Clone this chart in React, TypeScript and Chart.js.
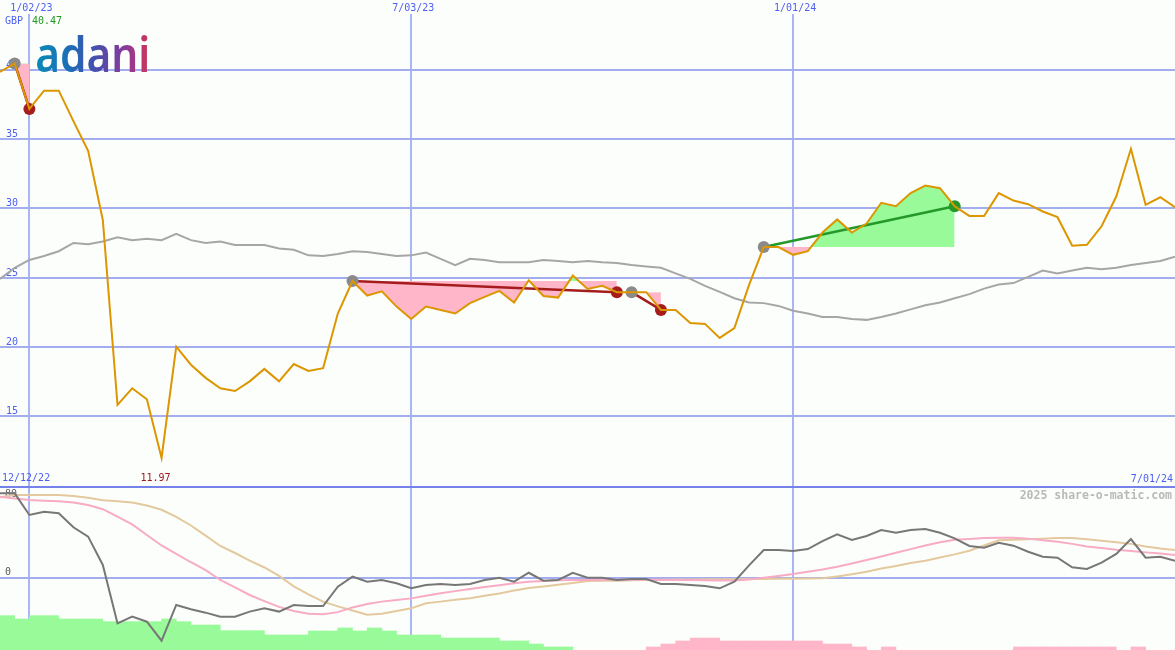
import React, { useEffect, useRef } from "react";
import { Chart, registerables } from "chart.js";

Chart.register(...registerables);

// ---------------- data ----------------
const dateTicks = [2, 28, 54];
const dateLabels = ["1/02/23", "7/03/23", "1/01/24"];
const rangeStartLabel = "12/12/22";
const rangeEndLabel = "7/01/24";
const currency = "GBP";
const logoText = "adani";
const watermark = "2025 share-o-matic.com";
const priceTicks = [15, 20, 25, 30, 35, 40];
const oscTicks = [80, 0, -60];

// weekly closes (index 0..80)
const price = [
  39.85, 40.47, 37.18, 38.5, 38.5, 36.3, 34.15, 29.16, 15.8, 17.0,
  16.2, 11.97, 20.0, 18.7, 17.75, 17.0, 16.8, 17.5, 18.4, 17.5,
  18.75, 18.25, 18.45, 22.4, 24.75, 23.7, 24.0, 22.9, 22.0, 22.9,
  22.66, 22.4, 23.15, 23.6, 24.03, 23.2, 24.8, 23.67, 23.55, 25.14,
  24.18, 24.4, 23.94, 23.94, 23.94, 22.66, 22.66, 21.72, 21.65, 20.64,
  21.35, 24.47, 27.2, 27.2, 26.64, 26.9, 28.25, 29.2, 28.25, 28.9,
  30.4, 30.15, 31.1, 31.64, 31.45, 30.15, 29.45, 29.45, 31.1, 30.56,
  30.3, 29.77, 29.36, 27.3, 27.36, 28.7, 30.85, 34.3, 30.25, 30.8,
  30.08,
];

const movingAverage = [
  24.9, 25.7, 26.27, 26.56, 26.9, 27.5, 27.4, 27.6, 27.9, 27.7,
  27.8, 27.7, 28.15, 27.7, 27.5, 27.6, 27.35, 27.35, 27.35, 27.1,
  27.0, 26.6, 26.55, 26.7, 26.9, 26.85, 26.7, 26.56, 26.6, 26.8,
  26.35, 25.9, 26.35, 26.27, 26.1, 26.1, 26.1, 26.27, 26.2, 26.1,
  26.2, 26.1, 26.05, 25.9, 25.8, 25.7, 25.3, 24.9, 24.4, 23.96,
  23.5, 23.2, 23.15, 22.95, 22.6, 22.4, 22.15, 22.15, 22.0, 21.94,
  22.15, 22.4, 22.7, 23.0, 23.2, 23.5, 23.8, 24.2, 24.5, 24.6,
  25.05, 25.5, 25.3, 25.5, 25.7, 25.6, 25.7, 25.9, 26.05, 26.2,
  26.5,
];

const tradeEntries = [1, 24, 43, 52];
const tradeExits = [2, 42, 45, 65];

const oscillator = [
  80.6, 80.6, 60, 63, 61.6, 48.3, 39.4, 12.4, -43.2, -36.8,
  -41.6, -59.7, -25.7, -29.8, -33, -36.8, -36.8, -32, -28.9, -32,
  -25.7, -26.7, -26.7, -8.3, 1.3, -3.5, -1.9, -5, -9.8, -6.7,
  -5.7, -6.7, -5.7, -1.9, 0.3, -3.5, 5, -2.5, -1.9, 5,
  0.3, 0.3, -1.9, -1, -1, -5.7, -5.7, -6.7, -7.6, -9.8,
  -3.5, 12, 26.7, 26.7, 25.7, 27.6, 35.2, 41.6, 36.2, 40,
  45.7, 43.1, 45.7, 46.7, 43.1, 37.8, 30.5, 28.9, 33.6, 30.8,
  25, 20.3, 19.3, 10.2, 8.6, 14.6, 22.9, 37.1, 19.3, 20.3,
  16.5,
];

const signalFast = [
  77.4, 75.8, 74.3, 73.6, 73, 72, 69.5, 65.5, 58.5, 51,
  41, 31, 23, 15, 7.5, -1.9, -9, -16.2, -22, -27.5,
  -31.5, -34, -34.5, -32.5, -28, -24.8, -22.5, -21, -19.4, -17,
  -14.5, -12.5, -10.5, -8.5, -6.8, -5, -3.5, -2.8, -2.2, -1.9,
  -1.8, -1.7, -1.6, -1.6, -1.6, -1.7, -1.9, -2.0, -2.2, -2.3,
  -2.3, -1.5, 0.3, 2, 3.8, 6, 8.2, 10.8, 13.8, 17.1,
  20.5, 24, 27.5, 31, 34, 36.5, 37.1, 38, 38.4, 38.4,
  37.5, 36, 34.5, 32.5, 30, 28.5, 26.8, 25.8, 24.4, 23.3,
  21.9,
];

const signalSlow = [
  77, 79, 79, 79, 79, 78, 76.5, 74, 73, 71.8,
  69, 65, 58.2, 50, 40.3, 30.5, 23.8, 16.5, 10, 2,
  -8, -15.5, -22.5, -27, -31, -35, -34, -31.5, -28.9, -24.1,
  -22.5, -20.8, -19.2, -17, -14.7, -12, -9.5, -8, -6.5, -4.8,
  -2.9, -2.7, -2.5, -2.2, -1.9, -1.8, -1.5, -1.4, -1.3, -1.2,
  -1.1, -1.0, -0.9, -0.8, -0.7, -0.5, -0.3, 1.5, 3.5, 6,
  9, 11.5, 14.3, 16.5, 19.5, 22.5, 26, 31, 36, 36.5,
  37, 37.5, 38, 38.2, 36.8, 35.5, 34, 32.5, 30, 28,
  26.7,
];

// weekly histogram (bar i spans week i..i+1); positive = green, negative = pink
const histogram = [
  32.7, 29.5, 32.7, 32.7, 29.5, 29.5, 29.5, 27, 27, 27,
  27, 29.5, 27, 23.8, 23.8, 18.4, 18.4, 18.4, 14.3, 14.3,
  14.3, 18.1, 18.1, 21, 18.1, 21, 18.1, 14.3, 14.3, 14.3,
  11.4, 11.4, 11.4, 11.4, 8.6, 8.6, 5.7, 2.9, 2.9, 0,
  0, 0, 0, 0, -2.9, -5.7, -8.6, -11.4, -11.4, -8.6,
  -8.6, -8.6, -8.6, -8.6, -8.6, -8.6, -5.7, -5.7, -2.9, 0,
  -2.9, 0, 0, 0, 0, 0, 0, 0, 0, -2.9,
  -2.9, -2.9, -2.9, -2.9, -2.9, -2.9, 0, -2.9, 0, 0,
];

// ---------------- layout / style ----------------
const W = 1175;
const TOP_H = 485;
const BOT_H = 165;
const PRICE_MIN = 10.01;
const PRICE_MAX = 45.05;
const OSC_MIN = -68.57;
const OSC_MAX = 88.57;
const SEPARATOR = 87.14;

const BG = "#fcfefc";
const HGRID = "#a3aeef";
const VGRID = "#aab5f3";
const SEP_BLUE = "#7482ea";
const AXIS_BLUE = "#4d5ff0";
const ORANGE = "#dc9600";
const MA_GREY = "#a6a6a6";
const FILL_PINK = "#ffb6c9";
const FILL_GREEN = "#98fa98";
const TRADE_RED = "#a51c1c";
const TRADE_GREEN = "#24992a";
const MARKER_GREY = "#8a8a8a";
const MARKER_RED = "#a51c1c";
const MARKER_GREEN = "#24992a";
const OSC_GREY = "#777777";
const SIG_PINK = "#f7abc4";
const SIG_TAN = "#e3c99d";
const MAX_GREEN = "#1f9a1f";
const MIN_RED = "#a01818";
const OSC_LABEL = "#5a5a5a";
const WATERMARK_GREY = "#b9b9b9";
const FONT = "10px 'DejaVu Sans Mono'";

const pts = (arr: number[], from = 0, to = arr.length - 1) => {
  const out: { x: number; y: number }[] = [];
  for (let i = from; i <= to; i++) out.push({ x: i, y: arr[i] });
  return out;
};

const maxPrice = Math.max(...price);
const minPrice = Math.min(...price);
const minIdx = price.indexOf(minPrice);

const hideAxisX = (s: any) => {
  s.height = 0;
};
const hideAxisY = (s: any) => {
  s.width = 0;
};

const topTextPlugin = {
  id: "topText",
  beforeDatasetsDraw(chart: any) {
    const { ctx } = chart;
    const y = chart.scales.y;
    ctx.save();
    ctx.font = FONT;
    ctx.fillStyle = AXIS_BLUE;
    ctx.textAlign = "left";
    ctx.textBaseline = "alphabetic";
    priceTicks.forEach((v) => ctx.fillText(String(v), 6, y.getPixelForValue(v) - 2));
    ctx.restore();
  },
  afterDraw(chart: any) {
    const { ctx } = chart;
    const x = chart.scales.x;
    ctx.save();
    ctx.font = FONT;
    ctx.textBaseline = "middle";
    dateTicks.forEach((v, k) => {
      const px = x.getPixelForValue(v) + 2;
      const w = ctx.measureText(dateLabels[k]).width;
      ctx.fillStyle = BG;
      ctx.fillRect(px - w / 2 - 2, 0, w + 4, 14);
      ctx.fillStyle = AXIS_BLUE;
      ctx.textAlign = "center";
      ctx.fillText(dateLabels[k], px, 8);
    });
    ctx.textAlign = "left";
    ctx.fillStyle = AXIS_BLUE;
    ctx.fillText(currency, 5, 21);
    ctx.fillStyle = MAX_GREEN;
    ctx.fillText(maxPrice.toFixed(2), 32, 21);
    ctx.fillStyle = AXIS_BLUE;
    ctx.fillText(rangeStartLabel, 2, 478);
    ctx.textAlign = "right";
    ctx.fillText(rangeEndLabel, 1173, 479);
    ctx.textAlign = "center";
    ctx.fillStyle = MIN_RED;
    ctx.fillText(minPrice.toFixed(2), x.getPixelForValue(minIdx) - 6, 478);

    // logo
    ctx.font = "600 48px 'Noto Sans'";
    ctx.textBaseline = "alphabetic";
    ctx.textAlign = "left";
    const m = ctx.measureText(logoText);
    const gl = m.actualBoundingBoxLeft || 0;
    const gr = m.actualBoundingBoxRight || m.width;
    const gw = gl + gr;
    const sx = 111 / gw;
    ctx.translate(37 + gl * sx, 72);
    ctx.scale(sx, 1);
    const g = ctx.createLinearGradient(-gl, 0, gr, 0);
    g.addColorStop(0, "#0a8ab5");
    g.addColorStop(0.3, "#1f6cb6");
    g.addColorStop(0.55, "#4a4dab");
    g.addColorStop(0.8, "#8b3a9b");
    g.addColorStop(1, "#c8365d");
    ctx.fillStyle = g;
    ctx.fillText(logoText, 0, 0);
    ctx.restore();
  },
};

const bottomTextPlugin = {
  id: "bottomText",
  beforeDatasetsDraw(chart: any) {
    const { ctx } = chart;
    const y = chart.scales.y;
    ctx.save();
    ctx.font = FONT;
    ctx.fillStyle = OSC_LABEL;
    ctx.textAlign = "left";
    ctx.textBaseline = "middle";
    oscTicks.forEach((v) => {
      const py = y.getPixelForValue(v);
      ctx.fillText(String(v), 5, v === 0 ? py - 6 : py);
    });
    ctx.font = "bold 11.5px 'DejaVu Sans Mono'";
    ctx.fillStyle = WATERMARK_GREY;
    ctx.textAlign = "right";
    ctx.fillText(watermark, 1172, 11);
    ctx.restore();
  },
};

export default function App() {
  const topRef = useRef<HTMLCanvasElement>(null);
  const botRef = useRef<HTMLCanvasElement>(null);

  useEffect(() => {
    const fillSets = tradeEntries.map((e, k) => ({
      data: pts(price, e, tradeExits[k]),
      borderWidth: 0,
      borderColor: "rgba(0,0,0,0)",
      pointRadius: 0,
      tension: 0,
      fill: { target: { value: price[e] }, above: FILL_GREEN, below: FILL_PINK },
      order: 5,
    }));
    const tradeLineSets = tradeEntries.map((e, k) => {
      const xi = tradeExits[k];
      const win = price[xi] > price[e];
      return {
        data: [
          { x: e, y: price[e] },
          { x: xi, y: price[xi] },
        ],
        borderColor: win ? TRADE_GREEN : TRADE_RED,
        borderWidth: 2.5,
        pointRadius: 0,
        fill: false,
        order: 3,
      };
    });
    const entryMarkers = {
      data: tradeEntries.map((e) => ({ x: e, y: price[e] })),
      showLine: false,
      pointRadius: 6,
      pointBackgroundColor: MARKER_GREY,
      pointBorderColor: MARKER_GREY,
      pointBorderWidth: 0,
      order: 2,
    };
    const exitColors = tradeExits.map((xi, k) =>
      price[xi] > price[tradeEntries[k]] ? MARKER_GREEN : MARKER_RED
    );
    const exitMarkers = {
      data: tradeExits.map((xi) => ({ x: xi, y: price[xi] })),
      showLine: false,
      pointRadius: 6,
      pointBackgroundColor: exitColors,
      pointBorderColor: exitColors,
      pointBorderWidth: 0,
      order: 2,
    };

    const top = new Chart(topRef.current as HTMLCanvasElement, {
      type: "line",
      data: {
        datasets: [
          {
            data: pts(price),
            borderColor: ORANGE,
            borderWidth: 2,
            pointRadius: 0,
            tension: 0,
            fill: false,
            order: 0,
          },
          entryMarkers,
          exitMarkers,
          ...tradeLineSets,
          {
            data: pts(movingAverage),
            borderColor: MA_GREY,
            borderWidth: 2,
            pointRadius: 0,
            tension: 0,
            fill: false,
            order: 4,
          },
          ...fillSets,
        ] as any,
      },
      options: {
        responsive: false,
        animation: false,
        events: [],
        layout: { padding: 0, autoPadding: false },
        plugins: { legend: { display: false }, tooltip: { enabled: false } },
        scales: {
          x: {
            type: "linear",
            min: 0,
            max: 80,
            offset: false,
            afterBuildTicks: (s: any) => {
              s.ticks = dateTicks.map((v) => ({ value: v }));
            },
            afterFit: hideAxisX,
            ticks: { display: false },
            border: { display: false },
            grid: { color: VGRID, lineWidth: 2, drawTicks: false },
          },
          y: {
            min: PRICE_MIN,
            max: PRICE_MAX,
            afterBuildTicks: (s: any) => {
              s.ticks = priceTicks.map((v) => ({ value: v }));
            },
            afterFit: hideAxisY,
            ticks: { display: false },
            border: { display: false },
            grid: { color: HGRID, lineWidth: 2, drawTicks: false },
          },
        },
      } as any,
      plugins: [topTextPlugin],
    });

    const bars: { x: number; y: number[] }[] = [];
    const barColors: string[] = [];
    histogram.forEach((h, i) => {
      if (h === 0) return;
      bars.push({ x: i + 0.5, y: [OSC_MIN, OSC_MIN + Math.abs(h)] });
      barColors.push(h > 0 ? FILL_GREEN : FILL_PINK);
    });

    const bot = new Chart(botRef.current as HTMLCanvasElement, {
      type: "line",
      data: {
        datasets: [
          {
            data: pts(oscillator),
            borderColor: OSC_GREY,
            borderWidth: 2,
            pointRadius: 0,
            tension: 0,
            order: 0,
          },
          {
            data: pts(signalFast),
            borderColor: SIG_PINK,
            borderWidth: 2,
            pointRadius: 0,
            tension: 0,
            order: 1,
          },
          {
            data: pts(signalSlow),
            borderColor: SIG_TAN,
            borderWidth: 2,
            pointRadius: 0,
            tension: 0,
            order: 2,
          },
          {
            type: "bar",
            data: bars,
            backgroundColor: barColors,
            borderWidth: 0,
            barPercentage: 1,
            categoryPercentage: 1,
            grouped: false,
            order: 5,
          },
        ] as any,
      },
      options: {
        responsive: false,
        animation: false,
        events: [],
        layout: { padding: 0, autoPadding: false },
        plugins: { legend: { display: false }, tooltip: { enabled: false } },
        scales: {
          x: {
            type: "linear",
            min: 0,
            max: 80,
            offset: false,
            afterBuildTicks: (s: any) => {
              s.ticks = dateTicks.map((v) => ({ value: v }));
            },
            afterFit: hideAxisX,
            ticks: { display: false },
            border: { display: false },
            grid: { color: VGRID, lineWidth: 2, drawTicks: false, offset: false },
          },
          y: {
            min: OSC_MIN,
            max: OSC_MAX,
            afterBuildTicks: (s: any) => {
              s.ticks = [{ value: 0 }, { value: SEPARATOR }];
            },
            afterFit: hideAxisY,
            ticks: { display: false },
            border: { display: false },
            grid: {
              color: (c: any) => (c.tick && c.tick.value === 0 ? HGRID : SEP_BLUE),
              lineWidth: 2,
              drawTicks: false,
            },
          },
        },
      } as any,
      plugins: [bottomTextPlugin],
    });

    return () => {
      top.destroy();
      bot.destroy();
    };
  }, []);

  return (
    <div
      style={{
        position: "fixed",
        left: 0,
        top: 0,
        width: W,
        height: TOP_H + BOT_H,
        background: BG,
        overflow: "hidden",
      }}
    >
      <canvas
        ref={topRef}
        width={W}
        height={TOP_H}
        style={{ position: "absolute", left: 0, top: 0, width: W, height: TOP_H }}
      />
      <canvas
        ref={botRef}
        width={W}
        height={BOT_H}
        style={{ position: "absolute", left: 0, top: TOP_H, width: W, height: BOT_H }}
      />
    </div>
  );
}
